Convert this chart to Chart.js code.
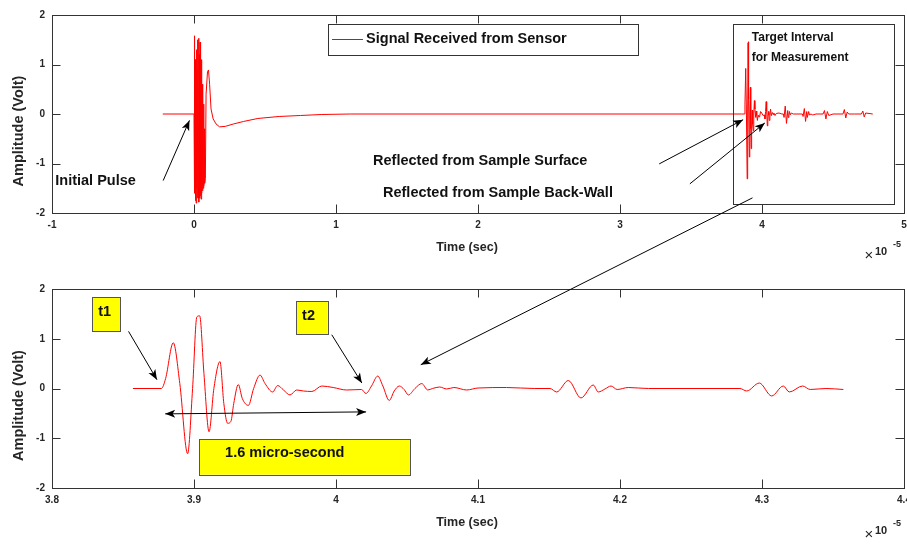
<!DOCTYPE html>
<html>
<head>
<meta charset="utf-8">
<script src="https://cdn.jsdelivr.net/npm/chart.js@4.4.0/dist/chart.umd.min.js"></script>
<style>
  html, body { margin: 0; padding: 0; background: #fff; }
  #wrap { position: relative; width: 907px; height: 544px; overflow: hidden; }
  canvas { position: absolute; left: 0; }
  #topChart { top: 0; }
  #zoomChart { top: 270px; }
  #overlay { top: 0; pointer-events: none; }
</style>
</head>
<body>
<div id="wrap">
  <canvas id="topChart" width="907" height="270"></canvas>
  <canvas id="zoomChart" width="907" height="274"></canvas>
  <canvas id="overlay" width="907" height="544"></canvas>
</div>
<script>
// =======================
// DATA (time in units of 1e-5 sec, amplitude in volts)
// =======================
const pulseTime = [-0.22, 0,
  0.0025, 0.005, 0.0075, 0.010, 0.0125, 0.015, 0.0175, 0.020, 0.0225, 0.025,
  0.0275, 0.030, 0.0325, 0.035, 0.0375, 0.040, 0.0425, 0.045, 0.0475, 0.050,
  0.0525, 0.055, 0.0575, 0.060, 0.0625, 0.065, 0.0675, 0.070, 0.0725, 0.075,
  0.080, 0.085, 0.095, 0.102, 0.110, 0.120, 0.135, 0.155, 0.180, 0.220,
  0.280, 0.350, 0.450, 0.600, 0.750, 0.900, 1.100];
const pulseAmp = [0, 0,
  1.58, -1.6, 1.1, -1.75, 0.8, -1.8, 1.3, -1.5, 0.9, -1.7,
  1.5, -1.6, 1.53, -1.78, 1.2, -1.7, 1.45, -1.65, 0.9, -1.72,
  1.1, -1.6, 0.6, -1.55, 0.4, -1.5, 0.2, -1.45, -0.3, -1.4,
  -1.3, 0.4, 0.85, 0.89, 0.6, 0.1, -0.1, -0.2, -0.26, -0.25,
  -0.2, -0.15, -0.09, -0.05, -0.03, -0.01, 0];

// echo from the sample (shown in both plots)
const echoTime = [3.857, 3.877, 3.880, 3.8854, 3.890, 3.8955, 3.899, 3.902, 3.904, 3.907,
  3.9106, 3.914, 3.9183, 3.921, 3.9237, 3.926, 3.928, 3.9312, 3.934, 3.9383,
  3.942, 3.9465, 3.950, 3.9554, 3.9589, 3.963, 3.9676, 3.9723, 3.977, 3.983,
  3.990, 3.998, 4.0075, 4.018, 4.0211, 4.025, 4.0294, 4.033, 4.0375, 4.041,
  4.0446, 4.048, 4.051, 4.0556, 4.0604, 4.0646, 4.068, 4.073, 4.078, 4.083,
  4.092, 4.100, 4.120, 4.140, 4.1507, 4.1554, 4.1636, 4.1725, 4.1812, 4.1847,
  4.1894, 4.1937, 4.198, 4.2058, 4.220, 4.2845, 4.2892, 4.2981, 4.3068, 4.315,
  4.3192, 4.3286, 4.334, 4.345, 4.3573];
const echoAmp = [0, 0, 0.2, 0.92, 0.1, -1.31, 0, 1.44, 1.46, 0.3,
  -0.87, 0, 0.54, -0.3, -0.70, -0.66, -0.3, 0.08, -0.2, -0.34,
  0, 0.27, 0.1, -0.07, 0.06, -0.03, -0.13, -0.03, -0.05, -0.06,
  0.05, 0.02, -0.03, -0.02, -0.1, 0.05, 0.25, 0.05, -0.24, -0.05,
  0.05, -0.02, -0.13, 0, 0.1, -0.03, 0, 0.03, -0.01, 0.02,
  -0.03, 0.01, 0.02, 0, 0, -0.07, 0.16, -0.19, 0.07, -0.07,
  -0.01, 0.05, -0.02, 0.02, 0, 0, -0.05, 0.11, -0.15, 0.05,
  -0.07, 0.05, -0.02, 0, -0.02];

// later reverberations (top plot only)
const tailTime = [4.38, 4.43, 4.44, 4.45, 4.46, 4.47, 4.50, 4.57, 4.58, 4.59,
  4.60, 4.61, 4.65, 4.70, 4.71, 4.72, 4.73, 4.78];
const tailAmp = [0, 0, 0.07, -0.1, 0.05, -0.03, 0, 0, 0.09, -0.08,
  0.04, 0, 0, 0, 0.06, -0.06, 0.02, 0];

const topXTicks = [-1, 0, 1, 2, 3, 4, 5];
const topXLabels = ["-1", "0", "1", "2", "3", "4", "5"];
const zoomXTicks = [3.8, 3.9, 4.0, 4.1, 4.2, 4.3, 4.4];
const zoomXLabels = ["3.8", "3.9", "4", "4.1", "4.2", "4.3", "4.4"];
const yTicks = [-2, -1, 0, 1, 2];
const yLabels = ["-2", "-1", "0", "1", "2"];

const seriesLabel = "Signal Received from Sensor";
const signalColor = "#ff0000";

// =======================
// ANNOTATIONS (data coordinates of each plot)
// =======================
const notes = {
  topChart: {
    expOffset: 39,
    legend: { x1: 0.944, y1: 1.82, x2: 3.126, y2: 1.195, lineX1: 0.972, lineX2: 1.19, lineY: 1.518, textX: 1.212 },
    boxes: [{ x1: 3.794, y1: 1.82, x2: 4.927, y2: -1.81, fill: null, stroke: "#333" }],
    texts: [
      { x: -0.977, y: -1.345, text: "Initial Pulse", size: 14.5 },
      { x: 1.261, y: -0.94, text: "Reflected from Sample Surface", size: 14.5 },
      { x: 1.331, y: -1.587, text: "Reflected from Sample Back-Wall", size: 14.5 },
      { x: 3.928, y: 1.538, text: "Target Interval", size: 12 },
      { x: 3.928, y: 1.135, text: "for Measurement", size: 12 }
    ],
    arrows: [
      { x1: -0.217, y1: -1.345, x2: -0.032, y2: -0.129, both: false },
      { x1: 3.276, y1: -1.008, x2: 3.867, y2: -0.115, both: false },
      { x1: 3.492, y1: -1.411, x2: 4.020, y2: -0.181, both: false }
    ]
  },
  zoomChart: {
    expOffset: 43,
    legend: null,
    boxes: [
      { x1: 3.8284, y1: 1.831, x2: 3.8481, y2: 1.148, fill: "#ffff00", stroke: "#555" },
      { x1: 3.9719, y1: 1.751, x2: 3.9942, y2: 1.081, fill: "#ffff00", stroke: "#555" },
      { x1: 3.9037, y1: -1.015, x2: 4.0522, y2: -1.733, fill: "#ffff00", stroke: "#555" }
    ],
    texts: [
      { x: 3.8326, y: 1.53, text: "t1", size: 14.5 },
      { x: 3.9761, y: 1.463, text: "t2", size: 14.5 },
      { x: 3.9219, y: -1.296, text: "1.6 micro-second", size: 14.5 }
    ],
    arrows: [
      { x1: 3.8539, y1: 1.148, x2: 3.8739, y2: 0.177, both: false },
      { x1: 3.997, y1: 1.081, x2: 4.0182, y2: 0.11, both: false },
      { x1: 3.8797, y1: -0.51, x2: 4.0212, y2: -0.47, both: true }
    ]
  }
};

// =======================
// HELPERS
// =======================
const FONT = '"Liberation Sans", Arial, sans-serif';

function points(times, amps) {
  return times.map((t, i) => ({ x: t, y: amps[i] }));
}

function arrowHead(ctx, x1, y1, x2, y2) {
  const a = Math.atan2(y2 - y1, x2 - x1);
  const len = 10, w = 4;
  const c = Math.cos(a), s = Math.sin(a);
  ctx.beginPath();
  ctx.moveTo(x2, y2);
  ctx.lineTo(x2 - len * c + w * s, y2 - len * s - w * c);
  ctx.lineTo(x2 - 0.75 * len * c, y2 - 0.75 * len * s);
  ctx.lineTo(x2 - len * c - w * s, y2 - len * s + w * c);
  ctx.closePath();
  ctx.fill();
}

function drawArrow(ctx, x1, y1, x2, y2, both) {
  ctx.beginPath();
  ctx.moveTo(x1, y1);
  ctx.lineTo(x2, y2);
  ctx.stroke();
  arrowHead(ctx, x1, y1, x2, y2);
  if (both) arrowHead(ctx, x2, y2, x1, y1);
}

function rectPx(ctx, x1, y1, x2, y2) {
  ctx.strokeRect(Math.round(x1) + 0.5, Math.round(y1) + 0.5, Math.round(x2 - x1), Math.round(y2 - y1));
}

// frame, inward ticks, titles and annotations
const matlabAxes = {
  id: "matlabAxes",
  afterDraw(chart) {
    const { ctx, chartArea: a, scales: { x, y } } = chart;
    const n = notes[chart.canvas.id];
    const P = (vx, vy) => [x.getPixelForValue(vx), y.getPixelForValue(vy)];
    ctx.save();

    // box + ticks on all four sides
    ctx.strokeStyle = "#333";
    ctx.lineWidth = 1;
    ctx.strokeRect(a.left + 0.5, a.top + 0.5, a.right - a.left, a.bottom - a.top);
    ctx.beginPath();
    x.ticks.forEach(t => {
      const px = Math.round(x.getPixelForValue(t.value)) + 0.5;
      ctx.moveTo(px, a.bottom); ctx.lineTo(px, a.bottom - 8.5);
      ctx.moveTo(px, a.top); ctx.lineTo(px, a.top + 8.5);
    });
    y.ticks.forEach(t => {
      const py = Math.round(y.getPixelForValue(t.value)) + 0.5;
      ctx.moveTo(a.left, py); ctx.lineTo(a.left + 8.5, py);
      ctx.moveTo(a.right, py); ctx.lineTo(a.right - 8.5, py);
    });
    ctx.stroke();

    // axis titles
    ctx.fillStyle = "#262626";
    ctx.textBaseline = "middle";
    ctx.textAlign = "center";
    ctx.font = "bold 12.5px " + FONT;
    ctx.fillText("Time (sec)", (a.left + a.right) / 2 - 11, a.bottom + 35);
    ctx.save();
    ctx.translate(18.5, (a.top + a.bottom) / 2 + 17);
    ctx.rotate(-Math.PI / 2);
    ctx.font = "bold 14.5px " + FONT;
    ctx.fillText("Amplitude (Volt)", 0, 0);
    ctx.restore();

    // x10^-5 exponent
    const ey = a.bottom + n.expOffset;
    ctx.textAlign = "center";
    ctx.font = "15px " + FONT;
    ctx.fillText("\u00d7", a.right - 35, ey + 4);
    ctx.textAlign = "left";
    ctx.font = "bold 11px " + FONT;
    ctx.fillText("10", a.right - 29, ey);
    ctx.font = "bold 9px " + FONT;
    ctx.fillText("-5", a.right - 11, ey - 7);

    // boxes
    n.boxes.forEach(b => {
      const [x1, y1] = P(b.x1, b.y1);
      const [x2, y2] = P(b.x2, b.y2);
      if (b.fill) {
        ctx.fillStyle = b.fill;
        ctx.fillRect(x1, y1, x2 - x1, y2 - y1);
      }
      ctx.strokeStyle = b.stroke;
      rectPx(ctx, x1, y1, x2, y2);
    });

    // legend
    if (n.legend) {
      const L = n.legend;
      const [x1, y1] = P(L.x1, L.y1);
      const [x2, y2] = P(L.x2, L.y2);
      ctx.fillStyle = "#fff";
      ctx.fillRect(x1, y1, x2 - x1, y2 - y1);
      ctx.strokeStyle = "#333";
      rectPx(ctx, x1, y1, x2, y2);
      const [lx1, ly] = P(L.lineX1, L.lineY);
      const [lx2] = P(L.lineX2, L.lineY);
      ctx.strokeStyle = signalColor;
      ctx.beginPath();
      ctx.moveTo(lx1, Math.round(ly) + 0.5);
      ctx.lineTo(lx2, Math.round(ly) + 0.5);
      ctx.stroke();
      const [tx] = P(L.textX, L.lineY);
      ctx.fillStyle = "#111";
      ctx.font = "bold 14.5px " + FONT;
      ctx.textAlign = "left";
      ctx.fillText(chart.data.datasets[0].label, tx, ly);
    }

    // texts
    n.texts.forEach(t => {
      const [px, py] = P(t.x, t.y);
      ctx.fillStyle = "#111";
      ctx.font = "bold " + t.size + "px " + FONT;
      ctx.textAlign = "left";
      ctx.fillText(t.text, px, py);
    });

    // arrows
    ctx.strokeStyle = "#000";
    ctx.fillStyle = "#000";
    n.arrows.forEach(r => {
      const [x1, y1] = P(r.x1, r.y1);
      const [x2, y2] = P(r.x2, r.y2);
      drawArrow(ctx, x1, y1, x2, y2, r.both);
    });

    ctx.restore();
  }
};

function makeChart(id, data, xMin, xMax, xTicks, xLabels, pad, xHeight, smooth) {
  return new Chart(document.getElementById(id), {
    type: "line",
    data: {
      datasets: [{
        label: seriesLabel,
        data: data,
        borderColor: signalColor,
        borderWidth: 1,
        pointRadius: 0,
        fill: false,
        tension: 0,
        cubicInterpolationMode: smooth ? "monotone" : "default"
      }]
    },
    options: {
      responsive: false,
      animation: false,
      devicePixelRatio: 1,
      events: [],
      layout: { padding: pad },
      plugins: {
        legend: { display: false },
        tooltip: { enabled: false }
      },
      scales: {
        x: {
          type: "linear",
          min: xMin,
          max: xMax,
          grid: { display: false, drawTicks: false },
          border: { display: false },
          afterBuildTicks: s => { s.ticks = xTicks.map(v => ({ value: v })); },
          afterFit: s => { s.height = xHeight; s.paddingLeft = 0; s.paddingRight = 0; },
          ticks: {
            autoSkip: false,
            maxRotation: 0,
            padding: 6,
            color: "#262626",
            font: { family: FONT, size: 10, weight: "bold" },
            callback: (v, i) => xLabels[i]
          }
        },
        y: {
          min: -2,
          max: 2,
          grid: { display: false, drawTicks: false },
          border: { display: false },
          afterBuildTicks: s => { s.ticks = yTicks.map(v => ({ value: v })); },
          afterFit: s => { s.width = 52; s.paddingTop = 0; s.paddingBottom = 0; },
          ticks: {
            padding: 7,
            color: "#262626",
            font: { family: FONT, size: 10, weight: "bold" },
            callback: (v, i) => yLabels[i]
          }
        }
      }
    },
    plugins: [matlabAxes]
  });
}

// =======================
// CHARTS
// =======================
const topData = points(pulseTime, pulseAmp)
  .concat(points(echoTime, echoAmp))
  .concat(points(tailTime, tailAmp));

const topChart = makeChart("topChart", topData, -1, 5, topXTicks, topXLabels,
  { top: 15, right: 3, left: 0, bottom: 0 }, 57, false);

const zoomChart = makeChart("zoomChart", points(echoTime, echoAmp), 3.8, 4.4, zoomXTicks, zoomXLabels,
  { top: 19, right: 3, left: 0, bottom: 0 }, 56, true);

// arrow from the target interval down to the zoomed plot
const ov = document.getElementById("overlay").getContext("2d");
const fromX = topChart.scales.x.getPixelForValue(3.933);
const fromY = topChart.scales.y.getPixelForValue(-1.694);
const toX = zoomChart.scales.x.getPixelForValue(4.0597);
const toY = zoomChart.scales.y.getPixelForValue(0.478) + 270;
ov.strokeStyle = "#000";
ov.fillStyle = "#000";
ov.lineWidth = 1;
drawArrow(ov, fromX, fromY, toX, toY, false);
</script>
</body>
</html>
